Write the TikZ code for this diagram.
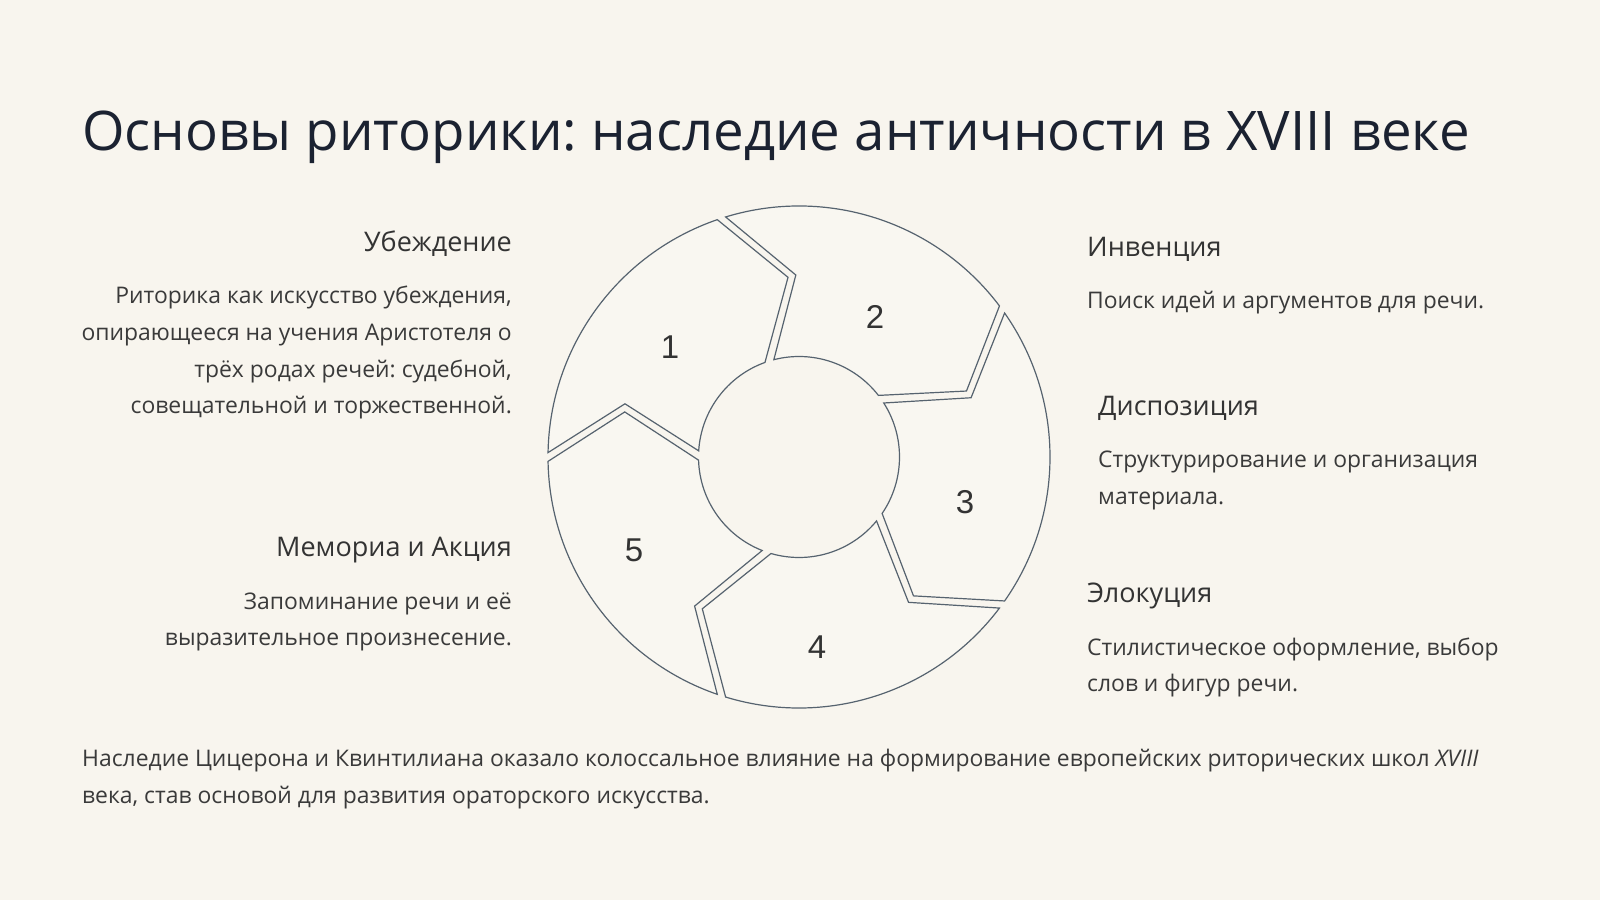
\documentclass[tikz,border=0pt]{standalone}
\usepackage{fontspec}
\setmainfont{Open Sans}
\newfontfamily\numfont{Liberation Sans}
\frenchspacing
\definecolor{bgc}{HTML}{F8F5EE}
\definecolor{segc}{HTML}{F9F7F1}
\definecolor{linec}{HTML}{56636F}
\definecolor{titlec}{HTML}{1B2231}
\definecolor{headc}{HTML}{333333}
\definecolor{bodyc}{HTML}{3A3A3A}
\begin{document}
\begin{tikzpicture}[x=1pt,y=1pt,
  titletext/.style={inner sep=0, text=titlec, font=\fontsize{54.6}{62}\selectfont},
  headtext/.style={inner sep=0, text=headc, font=\fontsize{27}{32}\selectfont},
  bodytext/.style={inner sep=0, text=bodyc, font=\fontsize{22.9}{36.7}\selectfont},
  numtext/.style={inner sep=0, text=headc, font=\numfont\fontsize{33}{40}\selectfont},
  segment/.style={draw=linec, line width=1.2pt, fill=segc, line join=miter}]
	\fill[bgc] (0,0) rectangle (1600,900);
	\useasboundingbox (0,0) rectangle (1600,900);
	% ring of five arrow segments
	\begin{scope}[shift={(799,443)}]
		\foreach \k in {1,...,5}{
			\pgfmathsetmacro{\oa}{109.5-72*(\k-1)+69.5}
			\pgfmathsetmacro{\ob}{109.5-72*(\k-1)-0.5}
			\pgfmathsetmacro{\tp}{109.5-72*(\k-1)-16}
			\pgfmathsetmacro{\ia}{109.5-72*(\k-1)+0.3}
			\pgfmathsetmacro{\ib}{109.5-72*(\k-1)+67}
			\pgfmathsetmacro{\nt}{109.5-72*(\k-1)+53.5}
			\draw[segment] (\oa:251) arc[start angle=\oa, end angle=\ob, radius=251pt]
				-- (\tp:180) -- (\ia:100.5) arc[start angle=\ia, end angle=\ib, radius=100.5pt]
				-- (\nt:182) -- cycle;
		}
	\end{scope}
	\node[numtext] (n1) at (670,553) {1};
	\node[numtext] (n2) at (875,583) {2};
	\node[numtext] (n3) at (965,398) {3};
	\node[numtext] (n4) at (817,253) {4};
	\node[numtext] (n5) at (634,350) {5};
	% texts (multi-line nodes sit on their last baseline)
	\node[titletext, anchor=base west] (title) at (82,749) {Основы риторики: наследие античности в XVIII веке};
	\node[headtext, anchor=base east] (persuasion) at (512,648) {Убеждение};
	\node[bodytext, anchor=base east, align=right] (persuasiontext) at (512,486) {Риторика как искусство убеждения,\\опирающееся на учения Аристотеля о\\трёх родах речей: судебной,\\совещательной и торжественной.};
	\node[headtext, anchor=base east] (memoria) at (512,343) {Мемориа и Акция};
	\node[bodytext, anchor=base east, align=right] (memoriatext) at (512,254.3) {Запоминание речи и её\\выразительное произнесение.};
	\node[headtext, anchor=base west] (inventio) at (1087,643) {Инвенция};
	\node[bodytext, anchor=base west, align=left] (inventiotext) at (1087,591) {Поиск идей и аргументов для речи.};
	\node[headtext, anchor=base west] (dispositio) at (1098,484) {Диспозиция};
	\node[bodytext, anchor=base west, align=left] (dispositiotext) at (1098,395.3) {Структурирование и организация\\материала.};
	\node[headtext, anchor=base west] (elocutio) at (1087,297) {Элокуция};
	\node[bodytext, anchor=base west, align=left] (elocutiotext) at (1087,208.3) {Стилистическое оформление, выбор\\слов и фигур речи.};
	\node[bodytext, anchor=base west, align=left] (legacy) at (82,97) {Наследие Цицерона и Квинтилиана оказало колоссальное влияние на формирование европейских риторических школ \textit{XVIII}\\века, став основой для развития ораторского искусства.};
\end{tikzpicture}
\end{document}
